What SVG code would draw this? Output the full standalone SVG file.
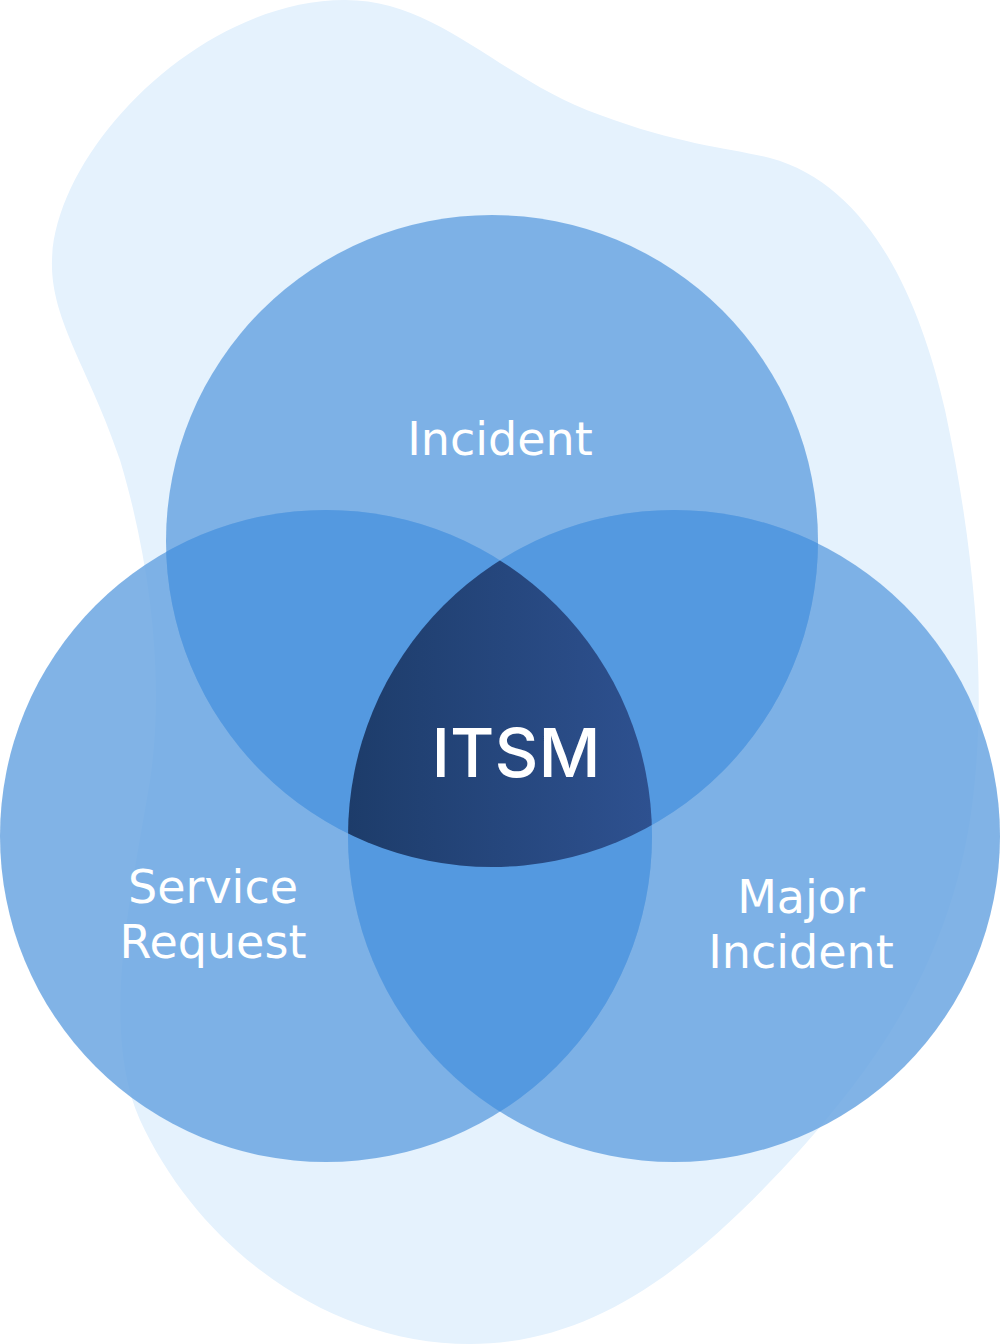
<svg xmlns="http://www.w3.org/2000/svg" width="1000" height="1344" viewBox="0 0 1000 1344">
  <style>
    .lbl { font-family: "DejaVu Sans", "Liberation Sans", sans-serif; font-size: 46px; fill: #ffffff; text-anchor: middle; }
    .core { font-family: "Inter", "Liberation Sans", sans-serif; font-size: 68px; font-weight: 500; fill: #ffffff; text-anchor: middle; }
    .single { fill: #6ba6e2; fill-opacity: 0.85; }
    .double { fill: #5499e0; }
  </style>
  <defs>
    <clipPath id="clipA"><circle cx="492" cy="541" r="326"/></clipPath>
    <clipPath id="clipB"><circle cx="326" cy="836" r="326"/></clipPath>
    <clipPath id="clipC"><circle cx="674" cy="836" r="326"/></clipPath>
    <linearGradient id="coreGrad" x1="348" y1="0" x2="652" y2="0" gradientUnits="userSpaceOnUse">
      <stop offset="0" stop-color="#1d3c6a"/>
      <stop offset="1" stop-color="#2e5190"/>
    </linearGradient>
  </defs>

  <path id="blob" fill="#e5f2fd" d="M 345 0 C 440 0 500 80 600 115 C 680 145 730 148 770 158 C 870 185 920 300 945 410 C 975 550 985 680 975 780 C 960 950 880 1060 800 1150 C 700 1260 600 1344 470 1344 C 330 1344 200 1250 140 1120 C 100 1030 130 900 150 780 C 165 680 150 560 120 460 C 90 370 50 320 52 260 C 55 150 200 0 345 0 Z"/>

  <g id="node-incident">
    <circle class="single" cx="492" cy="541" r="326"/>
  </g>
  <g id="node-service-request">
    <circle class="single" cx="326" cy="836" r="326"/>
  </g>
  <g id="node-major-incident">
    <circle class="single" cx="674" cy="836" r="326"/>
  </g>

  <g id="overlaps">
    <g clip-path="url(#clipA)"><circle class="double" cx="326" cy="836" r="326"/></g>
    <g clip-path="url(#clipA)"><circle class="double" cx="674" cy="836" r="326"/></g>
    <g clip-path="url(#clipB)"><circle class="double" cx="674" cy="836" r="326"/></g>
  </g>

  <g id="node-itsm">
    <g clip-path="url(#clipA)">
      <g clip-path="url(#clipB)">
        <circle cx="674" cy="836" r="326" fill="url(#coreGrad)"/>
      </g>
    </g>
    <text class="core" x="516" y="777">ITSM</text>
  </g>

  <g id="labels">
    <text class="lbl" x="500" y="455">Incident</text>
    <text class="lbl" x="213" y="903">Service</text>
    <text class="lbl" x="213" y="958">Request</text>
    <text class="lbl" x="801" y="913">Major</text>
    <text class="lbl" x="801" y="968">Incident</text>
  </g>
</svg>
